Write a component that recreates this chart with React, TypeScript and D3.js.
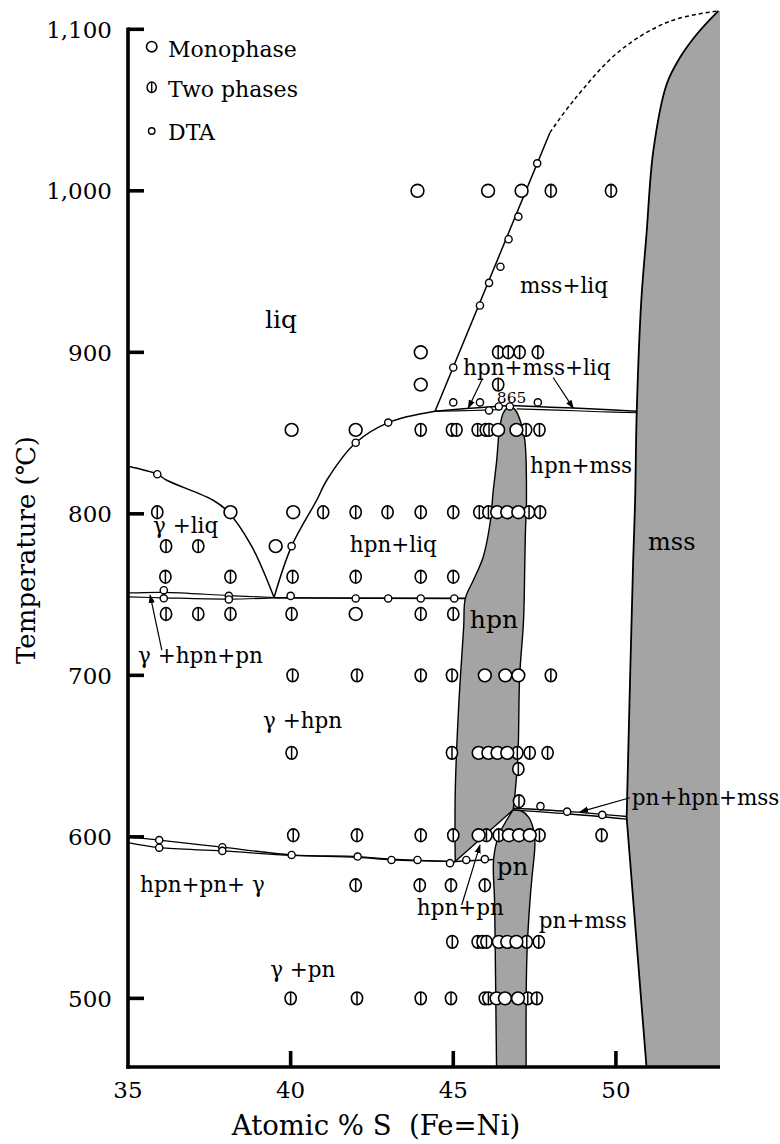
import React from 'react';
import * as d3 from 'd3';

type P = [number, number];

const W = 780;
const H = 1144;
const FONT = 'DejaVu Serif';

const xTicks = [35, 40, 45, 50];
const xTickLabels = ['35', '40', '45', '50'];
const yTicks = [500, 600, 700, 800, 900, 1000, 1100];
const yTickLabels = ['500', '600', '700', '800', '900', '1,000', '1,100'];

// ---- data points (atomic % S, temperature °C) ----
const monophase: P[] = [
  [43.9, 1000], [46.07, 1000], [47.1, 1000],
  [44.0, 900], [44.0, 880],
  [40.03, 852], [42.0, 852], [46.38, 852], [46.94, 852],
  [38.15, 801], [40.08, 801], [46.35, 801], [46.66, 801], [47.0, 801],
  [39.54, 780],
  [42.0, 738],
  [45.97, 700], [46.6, 700], [47.0, 700],
  [45.78, 652], [46.08, 652], [46.36, 652], [46.66, 652],
  [45.78, 601], [46.71, 601], [47.02, 601], [47.35, 601],
  [46.4, 535], [46.66, 535], [46.94, 535],
  [46.33, 500], [46.59, 500], [46.99, 500],
];

const twoPhase: P[] = [
  [48.0, 1000], [49.85, 1000],
  [46.38, 900], [46.69, 900], [47.04, 900], [47.6, 900],
  [46.38, 880],
  [44.0, 852], [44.96, 852], [45.1, 852], [45.75, 852], [46.0, 852], [46.1, 852], [47.24, 852], [47.65, 852],
  [35.9, 801], [41.0, 801], [42.0, 801], [42.98, 801], [44.0, 801], [45.0, 801], [45.8, 801], [46.08, 801], [47.33, 801], [47.67, 801],
  [36.17, 780], [37.16, 780],
  [36.15, 761], [38.15, 761], [40.06, 761], [42.0, 761], [44.0, 761], [45.0, 761],
  [36.17, 738], [37.16, 738], [38.15, 738], [40.03, 738], [44.0, 738], [45.0, 738],
  [40.06, 700], [42.04, 700], [44.0, 700], [44.96, 700], [48.0, 700],
  [40.03, 652], [44.96, 652], [46.97, 652], [47.35, 652], [47.9, 652],
  [47.0, 642], [47.02, 622],
  [40.08, 601], [42.04, 601], [44.0, 601], [45.0, 601], [46.02, 601], [46.4, 601], [47.65, 601], [49.56, 601],
  [42.0, 570], [43.97, 570], [44.93, 570], [45.97, 570],
  [44.97, 535], [45.75, 535], [45.9, 535], [46.02, 535], [47.26, 535], [47.63, 535],
  [40.0, 500], [42.04, 500], [44.0, 500], [44.93, 500], [45.97, 500], [46.08, 500], [47.29, 500], [47.57, 500],
];

const dta: P[] = [
  [45.0, 890.6], [45.82, 929], [46.1, 943], [46.45, 953], [46.7, 970], [47.0, 984], [47.58, 1017],
  [45.0, 869], [45.82, 869], [46.1, 864], [46.4, 866.5], [46.74, 866.5], [47.6, 869],
  [35.9, 824.5], [42.0, 844], [43.0, 856.5], [40.03, 780],
  [36.1, 752.7], [36.1, 747.7], [38.1, 749.2], [38.1, 747], [40.0, 749.2], [42.0, 747.6], [43.0, 747.6], [44.0, 747.6], [45.03, 747.6],
  [47.68, 619], [48.5, 615.6], [49.58, 613.6],
  [35.96, 598], [35.96, 593.3], [37.9, 593.6], [37.9, 591.3], [40.03, 588.8], [42.06, 587.8], [43.1, 585.7], [43.9, 585.7], [44.9, 583.7], [45.4, 585.7], [45.97, 586.2],
];

// ---- phase boundaries ----
const hpnLeft: P[] = [
  [45.06, 584.7], [45.06, 627], [45.16, 678.5], [45.32, 730], [45.37, 747.6], [45.62, 759], [45.92, 773.3],
  [46.13, 794], [46.23, 814.6], [46.33, 832], [46.43, 853.7], [46.55, 863], [46.74, 867],
];
const hpnRight: P[] = [
  [46.74, 867], [46.92, 864], [47.07, 857], [47.2, 845.5], [47.25, 808], [47.22, 790], [47.2, 771],
  [47.16, 734], [47.04, 699], [46.99, 651.7], [46.89, 625], [46.84, 616.7],
];
const pnLeft: P[] = [
  [46.84, 616.7], [46.4, 601], [46.24, 586], [46.27, 560], [46.29, 530], [46.33, 457.5],
];
const pnRight: P[] = [
  [46.84, 616.7], [47.1, 616], [47.32, 612], [47.46, 605], [47.51, 596], [47.42, 575], [47.36, 561],
  [47.27, 530], [47.24, 500], [47.24, 457.5],
];
const mssLower: P[] = [[50.94, 457.5], [50.33, 612]];
const mssUpper: P[] = [
  [50.33, 612], [50.53, 771], [50.59, 808], [50.64, 863], [50.78, 932], [50.94, 973], [51.15, 1024.8],
  [51.56, 1066], [51.97, 1082.5], [52.48, 1096.8], [53.15, 1111.4],
];
const liquidusGamma: P[] = [
  [35, 829.4], [35.9, 824.5], [36.19, 820.8], [37.62, 808.4], [38.08, 801.2], [38.8, 780], [39.49, 748.2],
];
const liquidusHpn: P[] = [
  [39.49, 748.2], [40.03, 780], [40.8, 808.4], [41.11, 820.8], [42.0, 844], [43.0, 856.5], [44.44, 863.5],
];
const liquidusMss: P[] = [[44.44, 863.5], [47.97, 1036]];
const liquidusDashed: P[] = [[47.97, 1036], [48.69, 1055.7], [50.12, 1086.7], [51.66, 1105], [53.15, 1111.4]];

const tie865Left: P[] = [[44.44, 863.5], [45.5, 865.3], [46.3, 866.5], [46.74, 867]];
const tie865LeftLow: P[] = [[44.44, 863.5], [45.6, 864], [46.5, 864.6]];
const tie865Right: P[] = [[46.74, 867], [48.0, 866], [49.5, 864.8], [50.64, 863.5]];
const tie865RightLow: P[] = [[46.95, 865], [48.2, 864.2], [49.5, 863.2], [50.64, 862.6]];

const tie748Upper: P[] = [[35, 751], [36.1, 751.4], [38.1, 749.4], [39.49, 748.2]];
const tie748Lower: P[] = [[35, 748.6], [36.1, 748], [38.1, 747.2], [39.49, 748]];
const tie748Main: P[] = [[39.49, 748], [45.37, 747.6]];

const tie588Upper: P[] = [[35, 599.8], [35.96, 598], [37.9, 593.6], [40.03, 588.9], [42.06, 587.8], [43.1, 586.2], [45.06, 584.7]];
const tie588Lower: P[] = [[35, 596.4], [35.96, 593.3], [37.9, 591.3], [40.03, 588.5], [42.06, 587.3], [43.1, 585.7], [45.06, 584.7]];
const tie588Main: P[] = [[45.06, 584.7], [46.24, 586]];

const tie617Upper: P[] = [[46.84, 617.7], [48.5, 615.8], [50.33, 612.6]];
const tie617Lower: P[] = [[46.84, 616.6], [48.5, 614.3], [50.33, 611]];

// ---- labels (data units) ----
const regionLabels: { text: string; x: number; t: number; size: number }[] = [
  { text: 'liq', x: 39.21, t: 914.9, size: 25 },
  { text: 'mss+liq', x: 47.05, t: 936.6, size: 21.5 },
  { text: 'hpn+mss+liq', x: 45.3, t: 885.8, size: 21.5 },
  { text: '865', x: 46.34, t: 868.5, size: 15.5 },
  { text: 'hpn+mss', x: 47.36, t: 825.2, size: 21.5 },
  { text: 'γ +liq', x: 35.77, t: 788, size: 21.5 },
  { text: 'hpn+liq', x: 41.82, t: 776.3, size: 21.5 },
  { text: 'hpn', x: 45.51, t: 729.6, size: 25 },
  { text: 'mss', x: 50.99, t: 777.5, size: 24 },
  { text: 'γ +hpn+pn', x: 35.31, t: 707.6, size: 21.5 },
  { text: 'γ +hpn', x: 39.15, t: 667.4, size: 21.5 },
  { text: 'pn+hpn+mss', x: 50.49, t: 619.7, size: 21.5 },
  { text: 'pn', x: 46.34, t: 576.3, size: 24.5 },
  { text: 'hpn+pn+ γ', x: 35.37, t: 565.8, size: 21.5 },
  { text: 'hpn+pn', x: 43.88, t: 551.6, size: 21.5 },
  { text: 'pn+mss', x: 47.63, t: 543.5, size: 21.5 },
  { text: 'γ +pn', x: 39.37, t: 513.2, size: 21.5 },
];

const arrows: { from: P; to: P }[] = [
  { from: [45.9, 883.8], to: [45.46, 865.4] },
  { from: [48.07, 884.4], to: [48.69, 865.4] },
  { from: [36.04, 715.6], to: [35.68, 749.7] },
  { from: [45.26, 557.8], to: [45.82, 594.9] },
  { from: [50.43, 624.2], to: [48.9, 615.5] },
];

const x = d3.scaleLinear().domain([35, 53.2]).range([128, 720]);
const y = d3.scaleLinear().domain([457.5, 1100]).range([1067, 29.3]);

const smooth = d3.line<P>().x((d) => x(d[0])).y((d) => y(d[1])).curve(d3.curveCatmullRom.alpha(0.5));
const straight = d3.line<P>().x((d) => x(d[0])).y((d) => y(d[1]));

const cont = (s: string | null) => (s || '').replace(/^M/, 'L');

const hpnPath = (smooth(hpnLeft) || '') + cont(smooth(hpnRight)) + 'Z';
const pnPath = (smooth(pnLeft.slice().reverse()) || '') + cont(smooth(pnRight)) + 'Z';
const mssPath =
  (straight(mssLower) || '') +
  cont(smooth(mssUpper)) +
  `L${x(53.2)},${y(1111.4)}L${x(53.2)},${y(457.5)}Z`;

const GRAY = '#a4a4a4';

function Mono({ d }: { d: P }) {
  return <circle cx={x(d[0])} cy={y(d[1])} r={6.4} fill="#fff" stroke="#000" strokeWidth={1.6} />;
}
function Two({ d }: { d: P }) {
  const cx = x(d[0]);
  const cy = y(d[1]);
  return (
    <g>
      <ellipse cx={cx} cy={cy} rx={5.6} ry={6.4} fill="#fff" stroke="#000" strokeWidth={1.6} />
      <line x1={cx} x2={cx} y1={cy - 6.4} y2={cy + 6.4} stroke="#000" strokeWidth={1.5} />
    </g>
  );
}
function Dta({ d }: { d: P }) {
  return <circle cx={x(d[0])} cy={y(d[1])} r={3.6} fill="#fff" stroke="#000" strokeWidth={1.4} />;
}

export default function App() {
  const lineStyle = { fill: 'none', stroke: '#000', strokeWidth: 1.5 };
  return (
    <svg
      width={W}
      height={H}
      viewBox={`0 0 ${W} ${H}`}
      style={{ position: 'absolute', left: 0, top: 0, background: '#fff', display: 'block' }}
      fontFamily={FONT}
    >
      <defs>
        <marker id="ah" viewBox="0 0 10 10" refX="9" refY="5" markerWidth="9" markerHeight="9" orient="auto-start-reverse" markerUnits="userSpaceOnUse">
          <path d="M0,1.5 L10,5 L0,8.5 Z" fill="#000" />
        </marker>
      </defs>
      <rect x={0} y={0} width={W} height={H} fill="#fff" />

      {/* gray single-phase regions */}
      <path d={mssPath} fill={GRAY} stroke="none" />
      <path d={hpnPath} fill={GRAY} stroke="#000" strokeWidth={1.4} />
      <path d={pnPath} fill={GRAY} stroke="#000" strokeWidth={1.4} />

      {/* boundaries */}
      <path d={(straight(mssLower) || '') + cont(smooth(mssUpper))} {...lineStyle} strokeWidth={1.8} />
      <path d={smooth(liquidusGamma) || ''} {...lineStyle} />
      <path d={smooth(liquidusHpn) || ''} {...lineStyle} />
      <path d={straight(liquidusMss) || ''} {...lineStyle} />
      <path d={smooth(liquidusDashed) || ''} {...lineStyle} strokeDasharray="4,3" />
      <path d={smooth(tie865Left) || ''} {...lineStyle} />
      <path d={smooth(tie865LeftLow) || ''} {...lineStyle} strokeWidth={1.1} />
      <path d={smooth(tie865Right) || ''} {...lineStyle} />
      <path d={smooth(tie865RightLow) || ''} {...lineStyle} strokeWidth={1.1} />
      <path d={smooth(tie748Upper) || ''} {...lineStyle} strokeWidth={1.2} />
      <path d={smooth(tie748Lower) || ''} {...lineStyle} strokeWidth={1.2} />
      <path d={straight(tie748Main) || ''} {...lineStyle} strokeWidth={1.8} />
      <path d={smooth(tie588Upper) || ''} {...lineStyle} strokeWidth={1.3} />
      <path d={smooth(tie588Lower) || ''} {...lineStyle} strokeWidth={1.3} />
      <path d={straight(tie588Main) || ''} {...lineStyle} strokeWidth={1.6} />
      <path d={smooth(tie617Upper) || ''} {...lineStyle} strokeWidth={1.3} />
      <path d={smooth(tie617Lower) || ''} {...lineStyle} strokeWidth={1.3} />

      {/* markers */}
      {twoPhase.map((d, i) => <Two key={'t' + i} d={d} />)}
      {monophase.map((d, i) => <Mono key={'m' + i} d={d} />)}
      {dta.map((d, i) => <Dta key={'d' + i} d={d} />)}

      {/* arrows */}
      {arrows.map((a, i) => (
        <line key={'a' + i} x1={x(a.from[0])} y1={y(a.from[1])} x2={x(a.to[0])} y2={y(a.to[1])} stroke="#000" strokeWidth={1.2} markerEnd="url(#ah)" />
      ))}

      {/* region labels */}
      {regionLabels.map((l, i) => (
        <text key={'l' + i} x={x(l.x)} y={y(l.t)} fontSize={l.size} fill="#000" style={{ whiteSpace: 'pre' }}>
          {l.text}
        </text>
      ))}

      {/* legend */}
      <g fontSize={22}>
        <circle cx={151.7} cy={46.7} r={5.2} fill="#fff" stroke="#000" strokeWidth={1.6} />
        <text x={168} y={57}>Monophase</text>
        <ellipse cx={151.7} cy={87.3} rx={4.6} ry={5.2} fill="#fff" stroke="#000" strokeWidth={1.5} />
        <line x1={151.7} x2={151.7} y1={82.1} y2={92.5} stroke="#000" strokeWidth={1.4} />
        <text x={168} y={97}>Two phases</text>
        <circle cx={151.7} cy={131} r={3.2} fill="#fff" stroke="#000" strokeWidth={1.4} />
        <text x={168} y={140}>DTA</text>
      </g>

      {/* axes */}
      <line x1={x(35)} x2={x(35)} y1={y(1100) - 1.8} y2={y(457.5) + 1.8} stroke="#000" strokeWidth={3.6} />
      <line x1={x(35) - 1.8} x2={x(53.2)} y1={y(457.5)} y2={y(457.5)} stroke="#000" strokeWidth={3.6} />
      {yTicks.map((t) => (
        <line key={'yt' + t} x1={x(35)} x2={x(35) + 16} y1={y(t)} y2={y(t)} stroke="#000" strokeWidth={3.6} />
      ))}
      {xTicks.filter((v) => v > 35).map((v) => (
        <line key={'xt' + v} x1={x(v)} x2={x(v)} y1={y(457.5)} y2={y(457.5) - 16} stroke="#000" strokeWidth={3.6} />
      ))}
      {yTicks.map((t, i) => (
        <text key={'yl' + t} x={112} y={y(t)} dy="0.36em" textAnchor="end" fontSize={23}>
          {yTickLabels[i]}
        </text>
      ))}
      {xTicks.map((v, i) => (
        <text key={'xl' + v} x={x(v)} y={1098} textAnchor="middle" fontSize={23}>
          {xTickLabels[i]}
        </text>
      ))}
      <text x={376} y={1135} textAnchor="middle" fontSize={27.5} style={{ whiteSpace: 'pre' }}>
        {'Atomic % S  (Fe=Ni)'}
      </text>
      <text transform="translate(26,550) rotate(-90)" textAnchor="middle" dominantBaseline="central" fontSize={26}>
        Temperature (℃)
      </text>
    </svg>
  );
}
